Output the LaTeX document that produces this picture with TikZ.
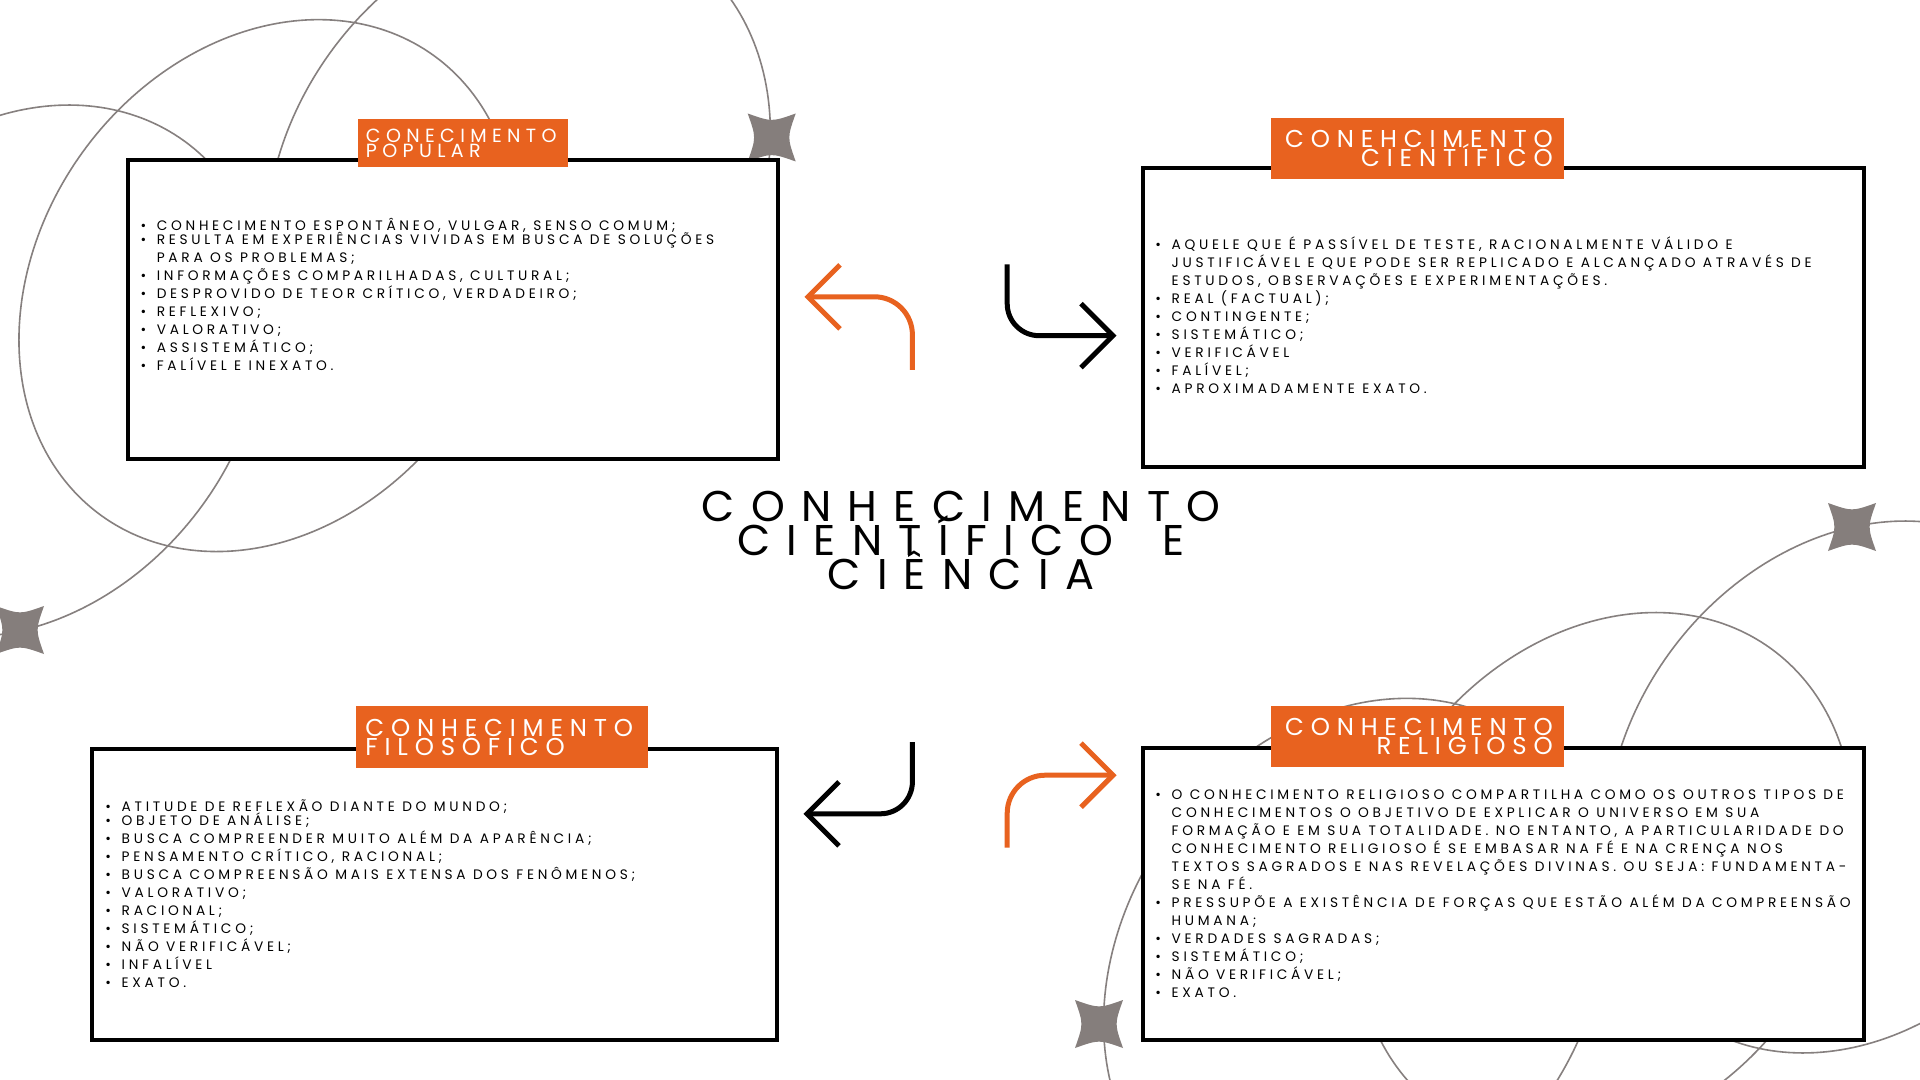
\documentclass[tikz,border=0pt]{standalone}
\usepackage{fontspec}
\setmainfont{Poppins}
\newfontfamily\bodyfont[LetterSpace=27]{Poppins}
\newfontfamily\headfont[LetterSpace=28]{Poppins}
\newfontfamily\titlefont[LetterSpace=38]{Poppins}
\usetikzlibrary{calc}
\definecolor{orng}{HTML}{E8621F}
\definecolor{decogray}{HTML}{86807F}
\definecolor{stargray}{HTML}{857E7C}
\newcommand{\decoring}[3]{%
  \draw[decoline] plot[domain=0:360, samples=241, variable=\t]
   ({#1 + #3*(166.42*cos(\t) + 184.76*sin(\t))},
    {#2 + #3*(-229.88*cos(\t) + 133.76*sin(\t))}) -- cycle;}
\newcommand{\sparkle}[2]{%
  \fill[stargray, shift={(#1,#2)}] (24,-24) .. controls (0,-15.5) .. (-24,-24)
   .. controls (-15.5,0) .. (-24,24) .. controls (0,15.5) .. (24,24)
   .. controls (15.5,0) .. cycle;}
\newcommand{\bitem}{\makebox[12.2pt][l]{•}}
\newcommand{\bcont}{\hspace*{12.2pt}}
\newcommand{\tightlines}{\lineskiplimit=-100pt\lineskip=0pt}
\newcommand{\bodystyle}{\bodyfont\fontsize{10.3pt}{13.5pt}\selectfont\tightlines}
\newcommand{\headsmall}{\headfont\fontsize{14.3pt}{11.1pt}\selectfont\tightlines}
\newcommand{\headbig}{\headfont\fontsize{18.3pt}{14.25pt}\selectfont\tightlines}
\newcommand{\titlestyle}{\titlefont\fontsize{32.25pt}{25.5pt}\selectfont\tightlines}
\begin{document}
\begin{tikzpicture}[x=0.75pt,y=-0.75pt,
  decoline/.style={draw=decogray, line width=1.2pt},
  infobox/.style={draw=black, line width=3pt, fill=white, inner sep=0pt},
  tag/.style={fill=orng, inner sep=0pt},
  txt/.style={inner sep=0pt},
  tagtxt/.style={inner sep=0pt, text=white},
  arrowline/.style={line width=3.75pt, line cap=butt},
]
\useasboundingbox (0,0) rectangle (1920,1080);
\fill[white] (0,0) rectangle (1920,1080);
% decorative rings and sparkles
\begin{scope}
\clip (0,0) rectangle (1920,1080);
\decoring{267.6}{285.6}{1}
\decoring{18}{371}{1}
\decoring{518}{188}{1.015}
\decoring{1854}{787}{1}
\decoring{1604.6}{878.5}{1}
\decoring{1355.2}{967.5}{1.012}
\sparkle{771.7}{137.5}
\sparkle{20}{630}
\sparkle{1852}{527}
\sparkle{1099}{1024}
\end{scope}
% boxes
\node[infobox, minimum width=487.8pt, minimum height=224.25pt] (b1) at (452.8,309.5) {};
\node[infobox, minimum width=540.75pt, minimum height=223.9pt] (b2) at (1503.5,317.25) {};
\node[infobox, minimum width=513.4pt, minimum height=218pt] (b3) at (434.75,894.35) {};
\node[infobox, minimum width=540.75pt, minimum height=218.5pt] (b4) at (1503.5,894.05) {};
% tags
\node[tag, minimum width=158.1pt, minimum height=35.9pt] (l1) at (462.9,142.75) {};
\node[tag, minimum width=220pt, minimum height=45.7pt] (l2) at (1417.7,148.25) {};
\node[tag, minimum width=219.1pt, minimum height=46pt] (l3) at (501.85,736.95) {};
\node[tag, minimum width=220pt, minimum height=45.45pt] (l4) at (1417.7,736.3) {};
\node[tagtxt, anchor=base west] (l1t) at (365.7,142.9) {\parbox[t]{300pt}{\headsmall\raggedright CONECIMENTO\\POPULAR}};
\node[tagtxt, anchor=base east] (l2t) at (1553,147.5) {\parbox[t]{300pt}{\headbig\raggedleft CONEHCIMENTO\\CIENTÍFICO}};
\node[tagtxt, anchor=base west] (l3t) at (365.2,736.5) {\parbox[t]{300pt}{\headbig\raggedright CONHECIMENTO\\FILOSÓFICO}};
\node[tagtxt, anchor=base east] (l4t) at (1553,735.5) {\parbox[t]{300pt}{\headbig\raggedleft CONHECIMENTO\\RELIGIOSO}};
% lists
\node[txt, anchor=base west] (t1) at (140.3,230.7) {\parbox[t]{700pt}{\bodystyle\raggedright
\bitem CONHECIMENTO ESPONTÂNEO, VULGAR, SENSO COMUM;\\[-3.15pt]
\bitem RESULTA EM EXPERIÊNCIAS VIVIDAS EM BUSCA DE SOLUÇÕES\\
\bcont PARA OS PROBLEMAS;\\
\bitem INFORMAÇÕES COMPARILHADAS, CULTURAL;\\
\bitem DESPROVIDO DE TEOR CRÍTICO, VERDADEIRO;\\
\bitem REFLEXIVO;\\
\bitem VALORATIVO;\\
\bitem ASSISTEMÁTICO;\\
\bitem FALÍVEL E INEXATO.}};
\node[txt, anchor=base west] (t2) at (1155.2,249.3) {\parbox[t]{700pt}{\bodystyle\raggedright
\bitem AQUELE QUE É PASSÍVEL DE TESTE, RACIONALMENTE VÁLIDO E\\
\bcont JUSTIFICÁVEL E QUE PODE SER REPLICADO E ALCANÇADO ATRAVÉS DE\\
\bcont ESTUDOS, OBSERVAÇÕES E EXPERIMENTAÇÕES.\\
\bitem REAL (FACTUAL);\\
\bitem CONTINGENTE;\\
\bitem SISTEMÁTICO;\\
\bitem VERIFICÁVEL\\
\bitem FALÍVEL;\\
\bitem APROXIMADAMENTE EXATO.}};
\node[txt, anchor=base west] (t3) at (105.2,811.3) {\parbox[t]{700pt}{\bodystyle\raggedright
\bitem ATITUDE DE REFLEXÃO DIANTE DO MUNDO;\\[-2.6pt]
\bitem OBJETO DE ANÁLISE;\\
\bitem BUSCA COMPREENDER MUITO ALÉM DA APARÊNCIA;\\
\bitem PENSAMENTO CRÍTICO, RACIONAL;\\
\bitem BUSCA COMPREENSÃO MAIS EXTENSA DOS FENÔMENOS;\\
\bitem VALORATIVO;\\
\bitem RACIONAL;\\
\bitem SISTEMÁTICO;\\
\bitem NÃO VERIFICÁVEL;\\
\bitem INFALÍVEL\\
\bitem EXATO.}};
\node[txt, anchor=base west] (t4) at (1155.2,799.6) {\parbox[t]{700pt}{\bodystyle\raggedright
\bitem O CONHECIMENTO RELIGIOSO COMPARTILHA COMO OS OUTROS TIPOS DE\\
\bcont CONHECIMENTOS O OBJETIVO DE EXPLICAR O UNIVERSO EM SUA\\
\bcont FORMAÇÃO E EM SUA TOTALIDADE. NO ENTANTO, A PARTICULARIDADE DO\\
\bcont CONHECIMENTO RELIGIOSO É SE EMBASAR NA FÉ E NA CRENÇA NOS\\
\bcont TEXTOS SAGRADOS E NAS REVELAÇÕES DIVINAS. OU SEJA: FUNDAMENTA-\\
\bcont SE NA FÉ.\\
\bitem PRESSUPÕE A EXISTÊNCIA DE FORÇAS QUE ESTÃO ALÉM DA COMPREENSÃO\\
\bcont HUMANA;\\
\bitem VERDADES SAGRADAS;\\
\bitem SISTEMÁTICO;\\
\bitem NÃO VERIFICÁVEL;\\
\bitem EXATO.}};
% title
\node[txt, anchor=base] (title) at (961,521) {\parbox[t]{700pt}{\titlestyle\centering CONHECIMENTO\\CIENTÍFICO\hspace{16pt} E\\CIÊNCIA}};
% arrows
\coordinate (a1s) at (912.4,370); \coordinate (a1t) at (808,296.8);
\coordinate (a2s) at (1007.2,264.5); \coordinate (a2t) at (1113,335.7);
\coordinate (a3s) at (912.4,742); \coordinate (a3t) at (807,813.8);
\coordinate (a4s) at (1007.2,847.5); \coordinate (a4t) at (1113,775.2);
\draw[arrowline, orng, rounded corners=28.5pt] (a1s) |- (a1t);
\draw[arrowline, orng, line join=miter] ($(a1t)+(32,-32)$) -- (a1t) -- ($(a1t)+(32,32)$);
\draw[arrowline, black, rounded corners=24pt] (a2s) |- (a2t);
\draw[arrowline, black, line join=miter] ($(a2t)+(-32,-32)$) -- (a2t) -- ($(a2t)+(-32,32)$);
\draw[arrowline, black, rounded corners=24pt] (a3s) |- (a3t);
\draw[arrowline, black, line join=miter] ($(a3t)+(32,-32)$) -- (a3t) -- ($(a3t)+(32,32)$);
\draw[arrowline, orng, rounded corners=28.5pt] (a4s) |- (a4t);
\draw[arrowline, orng, line join=miter] ($(a4t)+(-32,-32)$) -- (a4t) -- ($(a4t)+(-32,32)$);
\end{tikzpicture}
\end{document}
